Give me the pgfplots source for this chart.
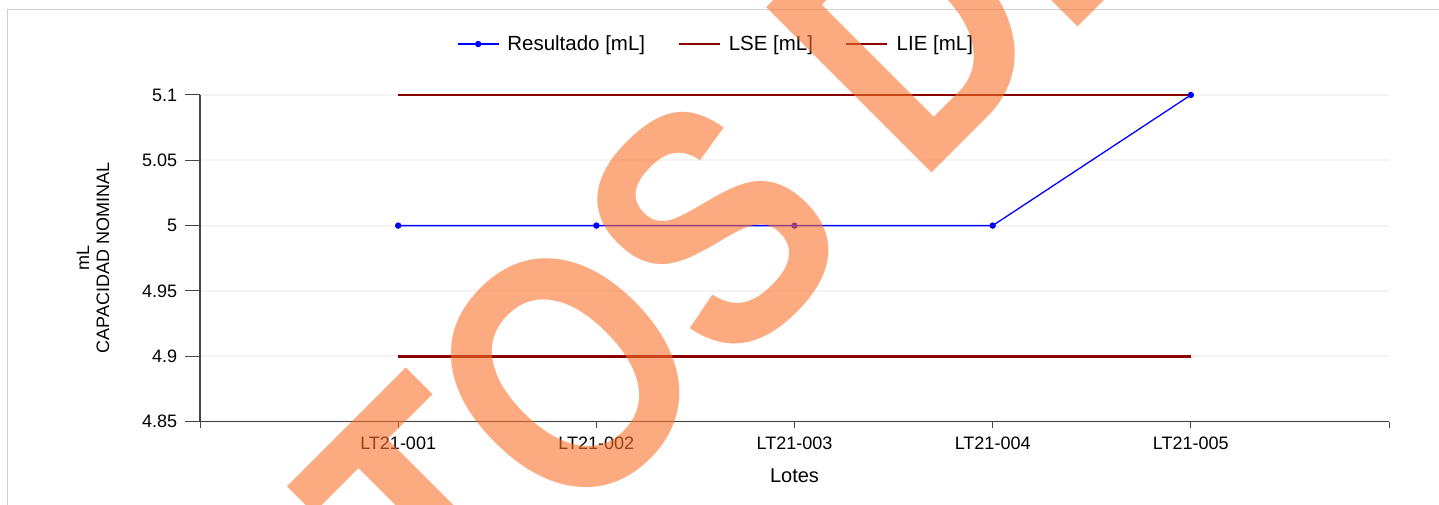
\documentclass[border=0pt]{standalone}
\usepackage{fontspec}
\setmainfont{Liberation Sans}
\usepackage{pgfplots}
\pgfplotsset{compat=1.18}
\definecolor{lim}{RGB}{139,0,0}
\definecolor{gridc}{RGB}{243,243,243}
\definecolor{axc}{RGB}{70,70,70}
\definecolor{wm}{RGB}{250,113,43}
\begin{document}
\begin{tikzpicture}[x=1pt,y=1pt]
\path[use as bounding box] (0,0) rectangle (1439,504);
\draw[black!18, line width=1pt] (7,494.5) rectangle (1470,-30);
\begin{axis}[
    at={(200pt,82.5pt)}, anchor=south west,
    scale only axis, width=1189pt, height=326.5pt,
    xmin=-1, xmax=5, ymin=4.85, ymax=5.1,
    axis x line*=bottom, axis y line*=left,
    axis line style={-, axc, line width=1.4pt},
    clip=false,
    xtick={-1,0,1,2,3,4,5},
    xticklabels={,LT21-001,LT21-002,LT21-003,LT21-004,LT21-005,},
    ytick={4.85,4.9,4.95,5,5.05,5.1},
    yticklabels={4.85,4.9,4.95,5,5.05,5.1},
    tick align=outside,
    x tick style={axc, line width=1pt, /pgfplots/major tick length=6pt},
    y tick style={axc, line width=1pt, /pgfplots/major tick length=15pt},
    tick label style={font=\fontsize{18}{21}\selectfont, black},
    xticklabel style={yshift=-8pt},
    yticklabel style={xshift=-15pt},
    /pgf/number format/assume math mode=true,
    ymajorgrids,
    grid style={gridc, line width=2.2pt},
    xlabel={Lotes},
    every axis x label/.style={at={(axis description cs:0.5,-0.187)}, anchor=base, font=\fontsize{20}{24}\selectfont},
    ylabel={mL\\CAPACIDAD NOMINAL},
    every axis y label/.style={at={(axis description cs:-0.09,0.5)}, rotate=90, anchor=center, align=center, font=\fontsize{18}{20}\selectfont},
    legend columns=3,
    legend style={at={(axis description cs:0.434,1.156)}, anchor=center, draw=none, fill=none,
        font=\fontsize{20.5}{24}\selectfont,
        /tikz/every odd column/.append style={column sep=6pt},
        /tikz/every even column/.append style={column sep=30pt}},
    legend image code/.code={\draw[mark repeat=2,mark phase=2,#1] plot coordinates {(0pt,0pt) (20.5pt,0pt) (41pt,0pt)};},
]
\addplot[lim, line width=2.6pt, forget plot] coordinates {(0,5.1) (4,5.1)};
\addplot[lim, line width=2.6pt, forget plot] coordinates {(0,4.9) (4,4.9)};
\addplot[blue, line width=1.3pt, mark=*, mark size=2.5pt, mark options={solid, fill=blue}] coordinates {
(0,5) (1,5) (2,5) (3,5) (4,5.1)
};
\addlegendentry{Resultado [mL]}
\addlegendimage{lim, line width=2.6pt}
\addlegendentry{LSE [mL]}
\addlegendimage{lim, line width=2.6pt}
\addlegendentry{LIE [mL]}
\end{axis}
\node[rotate=45, anchor=base west, inner sep=0pt, text=wm, text opacity=0.6,
      font=\fontsize{340}{340}\selectfont\bfseries, xscale=0.84] at (174,-427) {DATOS DE PRUEBA};
\end{tikzpicture}
\end{document}
